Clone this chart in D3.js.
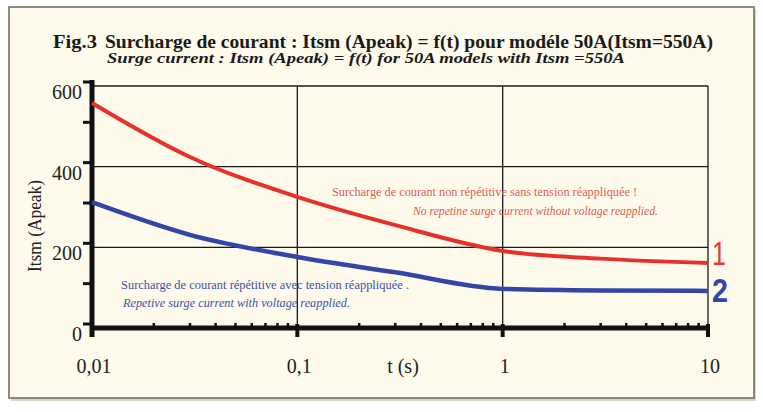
<!DOCTYPE html>
<html>
<head>
<meta charset="utf-8">
<script src="https://cdn.jsdelivr.net/npm/d3@7"></script>
<style>
  body { margin: 0; background: #ffffff; }
  svg { display: block; }
</style>
</head>
<body>
<div class="chart"></div>
<script>
// data
var times = [0.01, 0.03, 0.1, 0.3, 1, 3, 10];
var nonRepetitive = [558, 424, 325, 255, 191, 172, 161];
var repetitive = [312, 231, 176, 138, 97, 93, 92];
var xTickValues = [0.01, 0.1, 1, 10];
var xTickLabels = ["0,01", "0,1", "1", "10"];
var yTickValues = [0, 200, 400, 600];
var yGridValues = [200, 400, 600];

var W = 763, H = 412;
var margin = {top: 86, right: 55, bottom: 84, left: 92},
    width = 708 - margin.left,
    height = 328 - margin.top;

var x = d3.scaleLog().domain([0.01, 10]).range([0, width]);
var y = d3.scaleLinear().domain([0, 600]).range([height, 0]);

var serif = "Liberation Serif";

var svg = d3.select(".chart").append("svg")
    .attr("width", W)
    .attr("height", H);

// outer frame
svg.append("rect")
    .attr("x", 11).attr("y", 9)
    .attr("width", 745).attr("height", 392)
    .attr("fill", "#d9d4c8");
svg.append("rect")
    .attr("x", 9).attr("y", 7)
    .attr("width", 745).attr("height", 391)
    .attr("fill", "#fefbec")
    .attr("stroke", "#6f665c")
    .attr("stroke-width", 1.5);

// titles
svg.append("text")
    .attr("x", 53).attr("y", 48)
    .attr("font-family", serif).attr("font-weight", "bold")
    .attr("font-size", 18).attr("fill", "#1a1a1a")
    .attr("textLength", 44).attr("lengthAdjust", "spacingAndGlyphs")
    .text("Fig.3");
svg.append("text")
    .attr("x", 105).attr("y", 48)
    .attr("font-family", serif).attr("font-weight", "bold")
    .attr("font-size", 18).attr("fill", "#1a1a1a")
    .attr("textLength", 608).attr("lengthAdjust", "spacingAndGlyphs")
    .text("Surcharge de courant : Itsm (Apeak) = f(t) pour modéle 50A(Itsm=550A)");
svg.append("text")
    .attr("x", 107).attr("y", 63)
    .attr("font-family", serif).attr("font-weight", "bold").attr("font-style", "italic")
    .attr("font-size", 14).attr("fill", "#1a1a1a")
    .attr("textLength", 518).attr("lengthAdjust", "spacingAndGlyphs")
    .text("Surge current  : Itsm (Apeak) = f(t)  for 50A models with Itsm =550A");

var g = svg.append("g")
    .attr("transform", "translate(" + margin.left + "," + margin.top + ")");

// grid lines
g.selectAll(".hgrid")
    .data(yGridValues)
  .enter().append("line")
    .attr("x1", 0).attr("x2", width)
    .attr("y1", function(d) { return y(d); })
    .attr("y2", function(d) { return y(d); })
    .attr("stroke", "#1a1a1a").attr("stroke-width", 1.3);

g.selectAll(".vgrid")
    .data([0.1, 1, 10])
  .enter().append("line")
    .attr("x1", function(d) { return x(d); })
    .attr("x2", function(d) { return x(d); })
    .attr("y1", 0).attr("y2", height)
    .attr("stroke", "#1a1a1a").attr("stroke-width", 1.3);

// minor ticks on x axis (2..9 per decade), pointing up
var minor = [];
[0.01, 0.1, 1].forEach(function(d) {
  for (var k = 2; k <= 9; k++) minor.push(d * k);
});
g.selectAll(".xminor")
    .data(minor)
  .enter().append("line")
    .attr("x1", function(d) { return x(d); })
    .attr("x2", function(d) { return x(d); })
    .attr("y1", height).attr("y2", height - 5)
    .attr("stroke", "#111").attr("stroke-width", 2.5);

// major ticks on x axis, pointing down
g.selectAll(".xmajor")
    .data(xTickValues)
  .enter().append("line")
    .attr("x1", function(d) { return x(d); })
    .attr("x2", function(d) { return x(d); })
    .attr("y1", height - 4).attr("y2", height + 9)
    .attr("stroke", "#111").attr("stroke-width", 4);

// y axis ticks every 100, pointing left
g.selectAll(".ytick")
    .data(d3.range(0, 601, 100))
  .enter().append("line")
    .attr("x1", -9).attr("x2", 0)
    .attr("y1", function(d) { return y(d) - 4; })
    .attr("y2", function(d) { return y(d) - 4; })
    .attr("stroke", "#111").attr("stroke-width", 3);

// axis lines (thick)
g.append("line")
    .attr("x1", -2).attr("x2", width + 2)
    .attr("y1", height).attr("y2", height)
    .attr("stroke", "#111").attr("stroke-width", 5);
g.append("line")
    .attr("x1", 0).attr("x2", 0)
    .attr("y1", -6).attr("y2", height + 9)
    .attr("stroke", "#111").attr("stroke-width", 5);

// tick labels
g.selectAll(".ylabel")
    .data(yTickValues)
  .enter().append("text")
    .attr("x", -10)
    .attr("y", function(d) { return y(d) + 13; })
    .attr("text-anchor", "end")
    .attr("font-family", serif).attr("font-size", 20)
    .attr("fill", "#222")
    .text(function(d) { return d; });

g.selectAll(".xlabel")
    .data(xTickValues)
  .enter().append("text")
    .attr("x", function(d) { return x(d) + 2; })
    .attr("y", height + 45)
    .attr("text-anchor", "middle")
    .attr("font-family", serif).attr("font-size", 20)
    .attr("fill", "#222")
    .text(function(d, i) { return xTickLabels[i]; });

g.append("text")
    .attr("x", 311).attr("y", height + 45)
    .attr("text-anchor", "middle")
    .attr("font-family", serif).attr("font-size", 20)
    .attr("fill", "#222")
    .text("t (s)");

svg.append("text")
    .attr("transform", "translate(41,226) rotate(-90)")
    .attr("text-anchor", "middle")
    .attr("font-family", serif).attr("font-size", 18)
    .attr("fill", "#222")
    .attr("textLength", 92).attr("lengthAdjust", "spacingAndGlyphs")
    .text("Itsm (Apeak)");

// curves
var line = d3.line()
    .x(function(d) { return x(d[0]); })
    .y(function(d) { return y(d[1]); })
    .curve(d3.curveMonotoneX);

g.append("path")
    .datum(d3.zip(times, nonRepetitive))
    .attr("d", line)
    .style("fill", "none")
    .style("stroke", "#e8302b")
    .style("stroke-width", 4);

g.append("path")
    .datum(d3.zip(times, repetitive))
    .attr("d", line)
    .style("fill", "none")
    .style("stroke", "#3346a8")
    .style("stroke-width", 4.5);

// curve numbers
svg.append("text")
    .attr("x", 712).attr("y", 265)
    .attr("font-family", "Liberation Sans")
    .attr("font-size", 33).attr("fill", "#e53a34")
    .attr("textLength", 14).attr("lengthAdjust", "spacingAndGlyphs")
    .text("1");
svg.append("text")
    .attr("x", 712).attr("y", 302)
    .attr("font-family", "Liberation Sans")
    .attr("font-weight", "bold")
    .attr("font-size", 33).attr("fill", "#3346a8")
    .attr("textLength", 16).attr("lengthAdjust", "spacingAndGlyphs")
    .text("2");

// annotations
svg.append("text")
    .attr("x", 332).attr("y", 196)
    .attr("font-family", serif).attr("font-size", 13)
    .attr("fill", "#e05a52")
    .attr("textLength", 305).attr("lengthAdjust", "spacingAndGlyphs")
    .text("Surcharge de courant non répétitive sans tension réappliquée !");
svg.append("text")
    .attr("x", 413).attr("y", 215)
    .attr("font-family", serif).attr("font-style", "italic").attr("font-size", 13)
    .attr("fill", "#e05a52")
    .attr("textLength", 245).attr("lengthAdjust", "spacingAndGlyphs")
    .text("No repetine surge current without voltage reapplied.");
svg.append("text")
    .attr("x", 121).attr("y", 289)
    .attr("font-family", serif).attr("font-size", 13)
    .attr("fill", "#3f4fa8")
    .attr("textLength", 288).attr("lengthAdjust", "spacingAndGlyphs")
    .text("Surcharge de courant répétitive avec tension réappliquée .");
svg.append("text")
    .attr("x", 123).attr("y", 307)
    .attr("font-family", serif).attr("font-style", "italic").attr("font-size", 13)
    .attr("fill", "#3f4fa8")
    .attr("textLength", 227).attr("lengthAdjust", "spacingAndGlyphs")
    .text("Repetive surge current with voltage reapplied.");
</script>
</body>
</html>
